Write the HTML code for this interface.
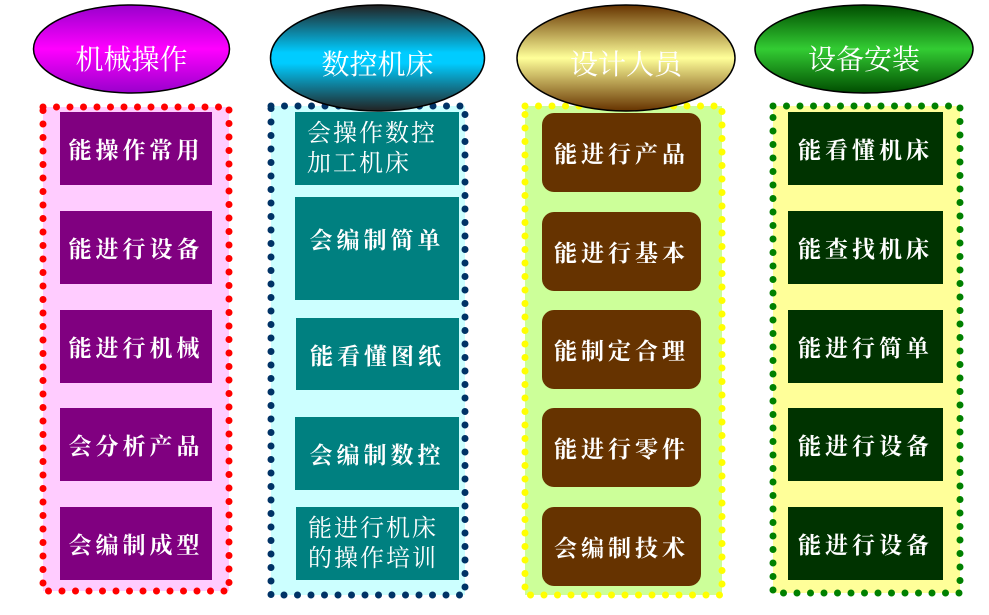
<!DOCTYPE html>
<html><head><meta charset="utf-8"><style>
body{margin:0;width:989px;height:615px;background:#fff;position:relative;overflow:hidden;font-family:"Liberation Serif","Noto Serif CJK SC",serif}
.b{position:absolute;color:#fff;font-weight:bold;font-size:23px;letter-spacing:4px;display:flex;align-items:center;justify-content:center;box-sizing:border-box}
.t{position:absolute;color:#fff;font-size:28px;font-weight:normal;text-align:center;font-family:"Liberation Serif","Noto Serif CJK SC",serif}
.m{font-weight:normal;font-size:24px;letter-spacing:2px;line-height:30px;justify-content:flex-start;padding-left:12px;text-align:left}
</style></head><body>
<svg width="989" height="615" style="position:absolute;left:0;top:0">
<defs>
<linearGradient id="g1" x1="0" y1="0" x2="0" y2="1"><stop offset="0" stop-color="#9900cc"/><stop offset=".5" stop-color="#ff00ff"/><stop offset="1" stop-color="#9900cc"/></linearGradient>
<linearGradient id="g2" x1="0" y1="0" x2="0" y2="1"><stop offset="0" stop-color="#222"/><stop offset=".45" stop-color="#00ccff"/><stop offset=".55" stop-color="#00ccff"/><stop offset="1" stop-color="#222"/></linearGradient>
<linearGradient id="g3" x1="0" y1="0" x2="0" y2="1"><stop offset="0" stop-color="#663300"/><stop offset=".5" stop-color="#ffff99"/><stop offset="1" stop-color="#663300"/></linearGradient>
<linearGradient id="g4" x1="0" y1="0" x2="0" y2="1"><stop offset="0" stop-color="#004d00"/><stop offset=".5" stop-color="#33cc33"/><stop offset="1" stop-color="#004d00"/></linearGradient>
</defs>
<g stroke-width="7" stroke-linecap="round" stroke-dasharray="0 13.5">
<rect x="43" y="107" width="186" height="484" fill="#ffccff" stroke="#ff0000"/>
<rect x="271" y="106" width="194" height="489" fill="#ccffff" stroke="#003366"/>
<rect x="525" y="106" width="197" height="489" fill="#ccff99" stroke="#ffff00"/>
<rect x="773" y="106" width="187" height="487" fill="#ffff99" stroke="#008000"/>
</g>
<g stroke="#000" stroke-width="1.5">
<ellipse cx="131.5" cy="49" rx="98" ry="44" fill="url(#g1)"/>
<ellipse cx="377.5" cy="58" rx="107" ry="53" fill="url(#g2)"/>
<ellipse cx="626" cy="58" rx="109" ry="53" fill="url(#g3)"/>
<ellipse cx="864" cy="49" rx="109" ry="44" fill="url(#g4)"/>
</g>
</svg>
<div class="t" style="left:33px;top:38px;width:197px">机械操作</div>
<div class="t" style="left:270px;top:43px;width:215px">数控机床</div>
<div class="t" style="left:517px;top:43px;width:218px">设计人员</div>
<div class="t" style="left:755px;top:38px;width:218px">设备安装</div>

<div class="b" style="left:60px;top:112px;width:152px;height:73px;background:#800080">能操作常用</div>
<div class="b" style="left:60px;top:211px;width:152px;height:73px;background:#800080">能进行设备</div>
<div class="b" style="left:60px;top:310px;width:152px;height:73px;background:#800080">能进行机械</div>
<div class="b" style="left:60px;top:408px;width:152px;height:73px;background:#800080">会分析产品</div>
<div class="b" style="left:60px;top:507px;width:152px;height:73px;background:#800080">会编制成型</div>

<div class="b m" style="left:295px;top:112px;width:164px;height:73px;background:#008080">会操作数控<br>加工机床</div>
<div class="b" style="left:295px;top:197px;width:164px;height:103px;background:#008080;align-items:flex-start;padding-top:25px">会编制简单</div>
<div class="b" style="left:296px;top:318px;width:163px;height:72px;background:#008080">能看懂图纸</div>
<div class="b" style="left:295px;top:417px;width:164px;height:73px;background:#008080">会编制数控</div>
<div class="b m" style="left:296px;top:507px;width:163px;height:73px;background:#008080">能进行机床<br>的操作培训</div>

<div class="b" style="left:542px;top:113px;width:159px;height:79px;background:#663300;border-radius:12px">能进行产品</div>
<div class="b" style="left:542px;top:212px;width:159px;height:79px;background:#663300;border-radius:12px">能进行基本</div>
<div class="b" style="left:542px;top:310px;width:159px;height:79px;background:#663300;border-radius:12px">能制定合理</div>
<div class="b" style="left:542px;top:408px;width:159px;height:79px;background:#663300;border-radius:12px">能进行零件</div>
<div class="b" style="left:542px;top:507px;width:159px;height:79px;background:#663300;border-radius:12px">会编制技术</div>

<div class="b" style="left:788px;top:112px;width:155px;height:73px;background:#003300">能看懂机床</div>
<div class="b" style="left:788px;top:211px;width:155px;height:73px;background:#003300">能查找机床</div>
<div class="b" style="left:788px;top:310px;width:155px;height:73px;background:#003300">能进行简单</div>
<div class="b" style="left:788px;top:408px;width:155px;height:73px;background:#003300">能进行设备</div>
<div class="b" style="left:788px;top:507px;width:155px;height:73px;background:#003300">能进行设备</div>
</body></html>
